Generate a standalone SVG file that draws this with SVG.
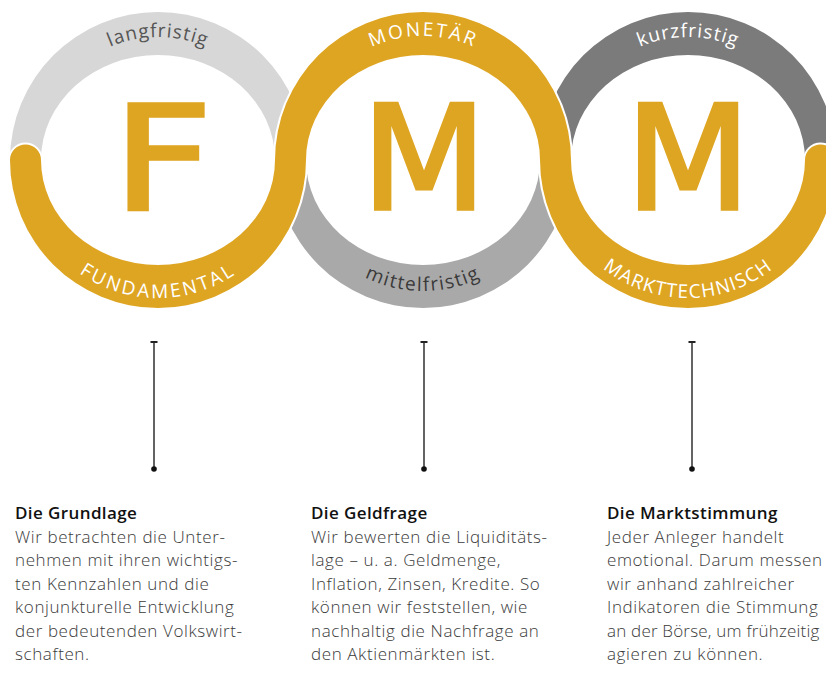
<svg xmlns="http://www.w3.org/2000/svg" xmlns:xlink="http://www.w3.org/1999/xlink" width="826" height="686" viewBox="0 0 826 686">
<style>
.gold{fill:#dea523}
.lbl{font-family:"Open Sans","Liberation Sans",sans-serif;font-size:19px;font-weight:500;letter-spacing:1px}
.cap{fill:#ffffff}
.big{font-family:"DejaVu Sans","Liberation Sans",sans-serif;font-size:145px;fill:#dea523;stroke:#dea523;stroke-width:3.5;text-anchor:middle}
.title{font-family:"Open Sans","Liberation Sans",sans-serif;font-size:17px;font-weight:600;fill:#111111;letter-spacing:0.4px}
.body{font-family:"Open Sans","Liberation Sans",sans-serif;font-size:17px;font-weight:300;fill:#3a3a3a;letter-spacing:0.6px}
.conn{stroke:#222222;stroke-width:1.4;fill:none;marker-start:url(#tick);marker-end:url(#dot)}
</style>
<defs>
<marker id="tick" viewBox="-4 -1 8 2" markerWidth="8" markerHeight="2" refX="0" refY="0" markerUnits="userSpaceOnUse" orient="0"><rect x="-3.5" y="-1" width="7" height="2" fill="#222222"/></marker>
<marker id="dot" viewBox="-3 -3 6 6" markerWidth="6" markerHeight="6" refX="0" refY="0" markerUnits="userSpaceOnUse"><circle r="2.8" fill="#111111"/></marker>
<path id="t1" d="M35,160 A123 123 0 0 1 281,160"/>
<path id="b1" d="M20,160 A138 138 0 0 0 296,160"/>
<path id="t2" d="M299,160 A124 124 0 0 1 547,160"/>
<path id="b2" d="M292,160 A131 131 0 0 0 554,160"/>
<path id="t3" d="M565,160 A123 123 0 0 1 811,160"/>
<path id="b3" d="M550,160 A138 138 0 0 0 826,160"/>
<path id="wave" d="M10,160 A148 148 0 0 0 306,160 A117 105 0 0 1 540,160 A148 148 0 0 0 836,160 A15.5 15.5 0 0 0 805,160 A117 105 0 0 1 571,160 A148 148 0 0 0 275,160 A117 105 0 0 1 41,160 A15.5 15.5 0 0 0 10,160 Z"/>
</defs>
<rect width="826" height="686" fill="#ffffff"/>
<g id="ring-grey">
<path d="M10,160 A148 148 0 0 1 306,160 L275,160 A117 105 0 0 0 41,160 Z" fill="#d7d7d7"/>
<path d="M275,160 A148 148 0 0 0 571,160 L540,160 A117 105 0 0 1 306,160 Z" fill="#a9a9a9"/>
<path d="M540,160 A148 148 0 0 1 836,160 L805,160 A117 105 0 0 0 571,160 Z" fill="#7b7b7b"/>
</g>
<g id="ring-gold">
<use xlink:href="#wave" fill="none" stroke="#ffffff" stroke-width="4"/>
<use xlink:href="#wave" class="gold"/>
</g>
<g id="node-F">
<text class="big" transform="translate(162.5,209) scale(1.2,1)" x="0" y="0">F</text>
<text class="lbl" fill="#555555"><textPath xlink:href="#t1" startOffset="50%" text-anchor="middle">langfristig</textPath></text>
<text class="lbl cap" style="letter-spacing:2.7px"><textPath xlink:href="#b1" startOffset="50%" text-anchor="middle">FUNDAMENTAL</textPath></text>
</g>
<g id="node-M1">
<text class="big" x="424" y="209">M</text>
<text class="lbl cap" style="letter-spacing:2.2px"><textPath xlink:href="#t2" startOffset="50%" text-anchor="middle">MONETÄR</textPath></text>
<text class="lbl" fill="#3a3a3a" style="letter-spacing:1.5px"><textPath xlink:href="#b2" startOffset="50%" text-anchor="middle">mittelfristig</textPath></text>
</g>
<g id="node-M2">
<text class="big" x="688" y="209">M</text>
<text class="lbl" fill="#ffffff"><textPath xlink:href="#t3" startOffset="50%" text-anchor="middle">kurzfristig</textPath></text>
<text class="lbl cap" style="letter-spacing:1.3px"><textPath xlink:href="#b3" startOffset="50%" text-anchor="middle">MARKTTECHNISCH</textPath></text>
</g>
<g id="connectors">
<line class="conn" x1="154" y1="342" x2="154" y2="469"/>
<line class="conn" x1="424" y1="342" x2="424" y2="469"/>
<line class="conn" x1="692" y1="342" x2="692" y2="469"/>
</g>
<g id="text-grundlage">
<text class="title" x="15" y="519">Die Grundlage</text>
<text class="body" x="15" y="542.5"><tspan x="15">Wir betrachten die Unter-</tspan><tspan x="15" dy="23.5">nehmen mit ihren wichtigs-</tspan><tspan x="15" dy="23.5">ten Kennzahlen und die</tspan><tspan x="15" dy="23.5">konjunkturelle Entwicklung</tspan><tspan x="15" dy="23.5">der bedeutenden Volkswirt-</tspan><tspan x="15" dy="23.5">schaften.</tspan></text>
</g>
<g id="text-geldfrage">
<text class="title" x="311" y="519">Die Geldfrage</text>
<text class="body" x="311" y="542.5"><tspan x="311">Wir bewerten die Liquiditäts-</tspan><tspan x="311" dy="23.5">lage – u. a. Geldmenge,</tspan><tspan x="311" dy="23.5">Inflation, Zinsen, Kredite. So</tspan><tspan x="311" dy="23.5">können wir feststellen, wie</tspan><tspan x="311" dy="23.5">nachhaltig die Nachfrage an</tspan><tspan x="311" dy="23.5">den Aktienmärkten ist.</tspan></text>
</g>
<g id="text-marktstimmung">
<text class="title" x="607" y="519">Die Marktstimmung</text>
<text class="body" x="607" y="542.5"><tspan x="607">Jeder Anleger handelt</tspan><tspan x="607" dy="23.5">emotional. Darum messen</tspan><tspan x="607" dy="23.5">wir anhand zahlreicher</tspan><tspan x="607" dy="23.5">Indikatoren die Stimmung</tspan><tspan x="607" dy="23.5" style="letter-spacing:0.2px">an der Börse, um frühzeitig</tspan><tspan x="607" dy="23.5">agieren zu können.</tspan></text>
</g>
</svg>
